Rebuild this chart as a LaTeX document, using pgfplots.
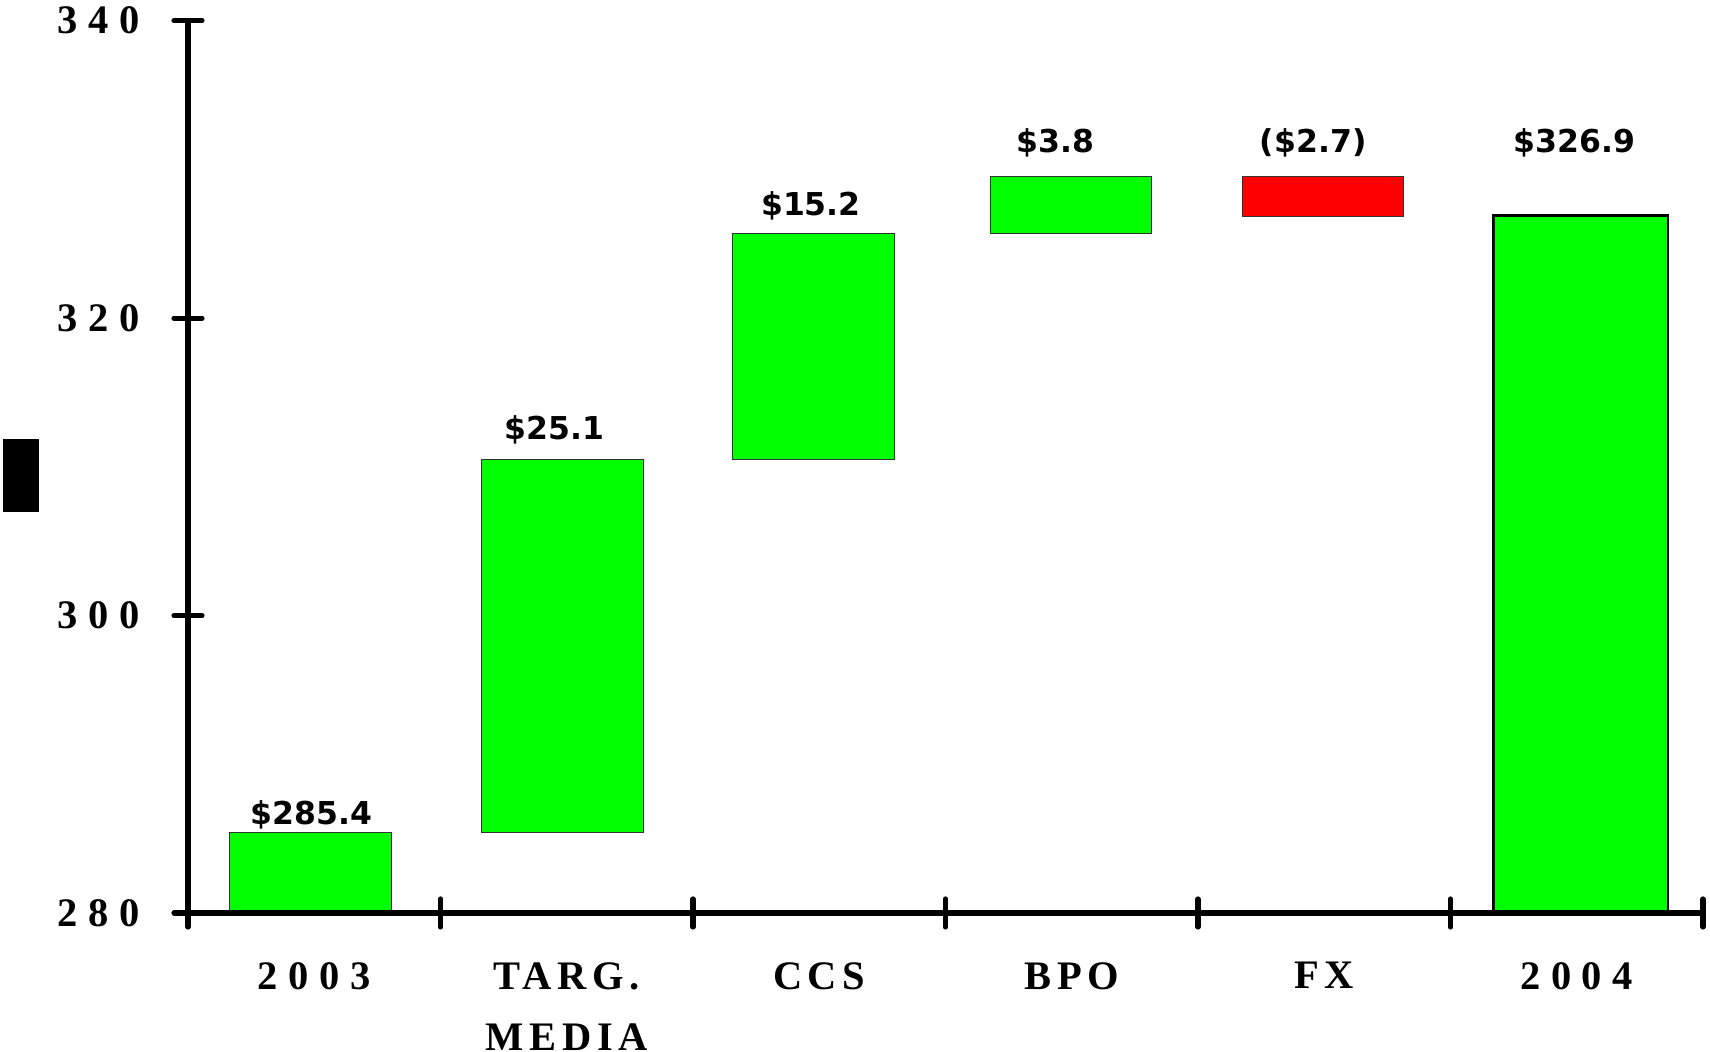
\documentclass[border=0pt]{standalone}
\usepackage{fontspec}
\usepackage{pgfplots}
\usepackage{pgfplotstable}
\pgfplotsset{compat=1.18}
\setmainfont{Liberation Serif}
\newfontfamily\numfont[LetterSpace=26]{Liberation Serif}
\newfontfamily\wordfont[LetterSpace=14]{Liberation Serif}
\newfontfamily\valuefont{DejaVu Sans}
\definecolor{barGreen}{HTML}{00FF00}
\definecolor{barRed}{HTML}{FF0000}
\newcommand{\ticksize}{\bfseries\fontsize{20.25pt}{30.5pt}\selectfont}

% where each value label sits (category, height, text)
\pgfplotstableread{
x y label
-0.01 286.61 \$285.4
0.952 312.51 \$25.1
1.967 327.57 \$15.2
2.936 331.76 \$3.8
3.956 331.76 (\$2.7)
4.992 331.76 \$326.9
}\valuelabels

\begin{document}
\begin{tikzpicture}
\useasboundingbox (-94pt,-69.5pt) rectangle (761pt,456.5pt);
\begin{axis}[
  at={(0pt,0pt)}, anchor=south west,
  scale only axis, width=757.5pt, height=446.15pt,
  xmin=-0.5, xmax=5.5, ymin=280, ymax=340,
  axis x line=bottom, axis y line=left,
  axis line style={-, line width=2.6pt, black},
  axis on top, clip=false,
  xtick={0,...,5},
  xticklabels={{\numfont 2003},{\wordfont TARG.\\\wordfont MEDIA},
    {\wordfont CCS},{\wordfont BPO},{\wordfont FX},{\numfont 2004}},
  minor xtick={-0.5,0.5,...,5.5},
  ytick={280,300,320,340},
  yticklabels={280,300,320,340},
  minor ytick={280,300,320,340},
  major tick length=0pt, minor tick length=14pt, tick align=center,
  every tick/.style={black, line width=2.6pt, line cap=round},
  every minor tick/.style={black, line width=2.6pt, line cap=round},
  xticklabel style={anchor=north, inner sep=0pt, align=center, yshift=-24.5pt,
    font=\ticksize},
  yticklabel style={anchor=east, inner sep=0pt, xshift=-24pt,
    font=\numfont\ticksize},
  every node near coord/.append style={anchor=center, inner sep=0pt,
    font=\valuefont\bfseries\fontsize{15.75pt}{18pt}\selectfont},
]
% 2003 starting level
\addplot[fill=barGreen, draw=black!80, line width=0.5pt]
  coordinates {(-0.334,280) (-0.334,285.4) (0.306,285.4) (0.306,280)} -- cycle;
% TARG. MEDIA  +25.1
\addplot[fill=barGreen, draw=black!80, line width=0.5pt]
  coordinates {(0.664,285.4) (0.664,310.5) (1.304,310.5) (1.304,285.4)} -- cycle;
% CCS  +15.2
\addplot[fill=barGreen, draw=black!80, line width=0.5pt]
  coordinates {(1.658,310.5) (1.658,325.7) (2.298,325.7) (2.298,310.5)} -- cycle;
% BPO  +3.8
\addplot[fill=barGreen, draw=black!80, line width=0.5pt]
  coordinates {(2.677,325.7) (2.677,329.5) (3.317,329.5) (3.317,325.7)} -- cycle;
% FX  -2.7
\addplot[fill=barRed, draw=black!80, line width=0.5pt]
  coordinates {(3.675,329.5) (3.675,326.8) (4.315,326.8) (4.315,329.5)} -- cycle;
% 2004 ending level
\addplot[fill=barGreen, draw=black, line width=1.2pt]
  coordinates {(4.671,280) (4.671,326.9) (5.361,326.9) (5.361,280)} -- cycle;
% value labels
\addplot[draw=none, mark=none, nodes near coords, point meta=explicit symbolic]
  table[x=x, y=y, meta=label] {\valuelabels};
\end{axis}
\fill[black] (-92.5pt,200.5pt) rectangle (-74.5pt,237pt);
\end{tikzpicture}
\end{document}
